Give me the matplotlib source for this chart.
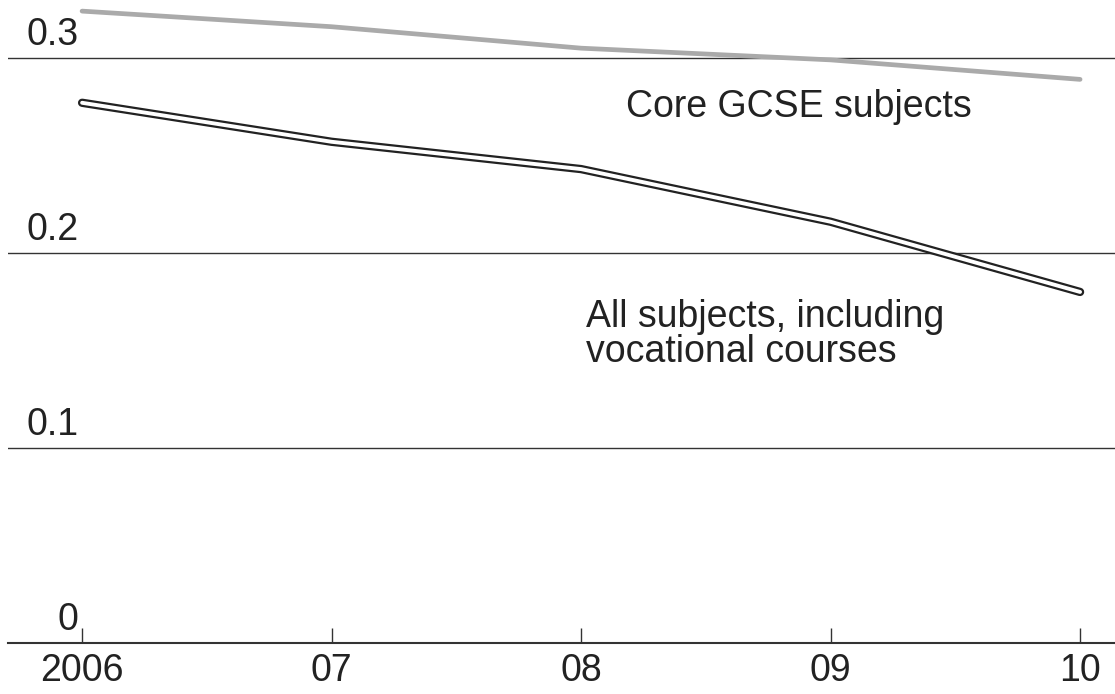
import matplotlib.pyplot as plt

plt.rcParams['font.family'] = ['Liberation Sans', 'DejaVu Sans']

years = [2006, 2007, 2008, 2009, 2010]
year_labels = ['2006', '07', '08', '09', '10']
core_gcse = [0.324, 0.316, 0.305, 0.299, 0.289]
all_subjects = [0.277, 0.257, 0.243, 0.216, 0.180]
y_ticks = [0, 0.1, 0.2, 0.3]
y_labels = ['0', '0.1', '0.2', '0.3']

FS = 27

fig = plt.figure(figsize=(11.15, 6.94), dpi=100)
ax = fig.add_axes([8 / 1115, 51 / 694, 1107 / 1115, 643 / 694])
ax.set_xlim(2005.703, 2010.14)
ax.set_ylim(0, 0.3297)

# gridlines
for t in y_ticks[1:]:
    ax.axhline(t, color='#333333', lw=1.0, zorder=1)

# y labels sit above the gridlines, right aligned just left of first year
for t, lab in zip(y_ticks, y_labels):
    ax.text(2005.985, t + 0.0067, lab, ha='right', va='baseline',
            fontsize=FS, color='#222222')

# series
ax.plot(years, core_gcse, color='#aaaaaa', lw=3.4, solid_capstyle='round', zorder=3)
ax.plot(years, all_subjects, color='#222222', lw=6.0, solid_capstyle='round',
        solid_joinstyle='round', zorder=3)
ax.plot(years, all_subjects, color='white', lw=2.8, solid_capstyle='round',
        solid_joinstyle='round', zorder=4)

ax.text(2008.18, 0.3 - 59 / 1950, 'Core GCSE subjects', fontsize=FS,
        color='#222222', ha='left', va='baseline')
ax.text(2008.02, 0.2 - 74 / 1950, 'All subjects, including', fontsize=FS,
        color='#222222', ha='left', va='baseline')
ax.text(2008.02, 0.2 - 109 / 1950, 'vocational courses', fontsize=FS,
        color='#222222', ha='left', va='baseline')

for s in ['top', 'right', 'left']:
    ax.spines[s].set_visible(False)
ax.spines['bottom'].set_color('#333333')
ax.spines['bottom'].set_linewidth(1.5)
ax.set_yticks([])
ax.set_xticks(years)
ax.set_xticklabels(year_labels)
ax.tick_params(axis='x', direction='in', length=11, width=1.0, color='#333333',
               labelsize=FS, labelcolor='#222222', pad=7)

plt.savefig('out.png', dpi=100)
